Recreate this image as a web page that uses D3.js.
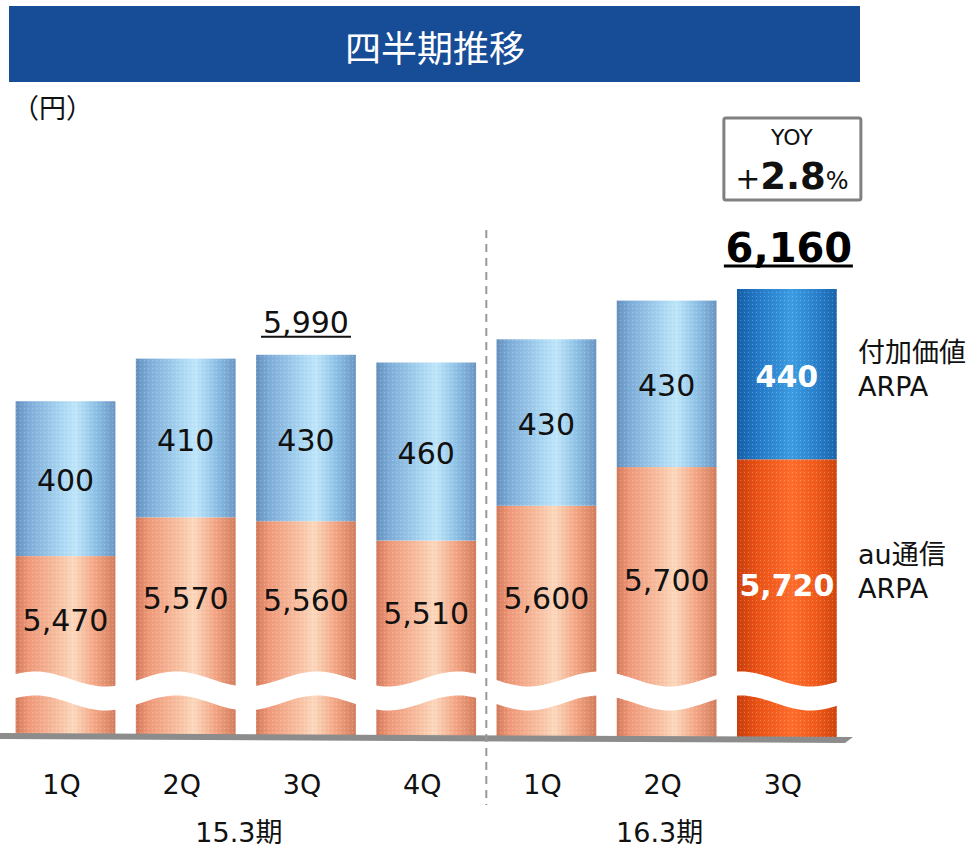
<!DOCTYPE html>
<html><head><meta charset="utf-8">
<script src="https://cdn.jsdelivr.net/npm/d3@7"></script>
<style>
html,body{margin:0;padding:0;background:#fff;}
svg{display:block;}
text{font-family:"DejaVu Sans","Noto Sans CJK JP",sans-serif;}
.cjk{font-family:"Noto Sans CJK JP","DejaVu Sans",sans-serif;}
</style></head>
<body>
<script>
// ---- data ----
const keys = ["15.3-1Q","15.3-2Q","15.3-3Q","15.3-4Q","16.3-1Q","16.3-2Q","16.3-3Q"];
const quarterLabels = ["1Q","2Q","3Q","4Q","1Q","2Q","3Q"];
const auArpa = [5470,5570,5560,5510,5600,5700,5720];        // au通信ARPA
const valueArpa = [400,410,430,460,430,430,440];            // 付加価値ARPA
const periodLabels = ["15.3期","16.3期"];
const periodFirst = [0,4];
const periodLast = [3,6];
const highlightIndex = 6;
const calloutIndex = [2,6];
const yoyText = ["YOY","+","2.8","%"];
const title = "四半期推移";
const unitLabel = "（円）";
const legendTop = ["付加価値","ARPA"];
const legendBottom = ["au通信","ARPA"];

const W = 978, H = 852;
const svg = d3.select("body").append("svg").attr("width",W).attr("height",H);
const defs = svg.append("defs");

function grad(id, stops){
  const g = defs.append("linearGradient").attr("id",id).attr("x1","0%").attr("x2","100%").attr("y1","0%").attr("y2","0%");
  stops.forEach(s=>g.append("stop").attr("offset",s[0]).attr("stop-color",s[1]));
}
grad("gBlue",[["0%","#6590bd"],["12%","#7cabd8"],["45%","#a9d6f2"],["60%","#bfe6fa"],["80%","#8fc2e7"],["100%","#6b97c4"]]);
grad("gOrange",[["0%","#d27a5b"],["12%","#ef9878"],["45%","#f9c3a5"],["58%","#fcd8bd"],["80%","#f3a584"],["100%","#d47e5e"]]);
grad("gBlueH",[["0%","#155fa8"],["20%","#2478c6"],["55%","#3c9de2"],["80%","#2a80cc"],["100%","#1a64ad"]]);
grad("gOrangeH",[["0%","#c93e0c"],["20%","#ea5216"],["55%","#ff6d2c"],["80%","#f05a1a"],["100%","#cf440e"]]);
const pat = defs.append("pattern").attr("id","tex").attr("width",4).attr("height",4).attr("patternUnits","userSpaceOnUse");
pat.append("rect").attr("x",0).attr("y",0).attr("width",1).attr("height",1).attr("fill","#fff").attr("opacity",0.25);
pat.append("rect").attr("x",2).attr("y",2).attr("width",1).attr("height",1).attr("fill","#000").attr("opacity",0.06);

// ---- header ----
svg.append("rect").attr("x",9).attr("y",6).attr("width",851).attr("height",76).attr("fill","#174c97");
svg.append("text").attr("class","cjk").attr("x",435).attr("y",46).attr("text-anchor","middle")
  .attr("dominant-baseline","central").attr("fill","#fff").attr("font-size",36).text(title);
svg.append("text").attr("class","cjk").attr("x",12).attr("y",118).attr("fill","#111").attr("font-size",27).text(unitLabel);

// ---- scales ----
const x = d3.scaleBand().domain(keys).range([5.4,847]).paddingInner(0.17).paddingOuter(0.085);
const y = d3.scaleLinear().domain([5000,6200]).range([738,273.5]);
const bw = x.bandwidth();

const data = keys.map((k,i)=>({k, i, au:auArpa[i], va:valueArpa[i], total:auArpa[i]+valueArpa[i]}));

// ---- bars ----
const bars = svg.append("g");
data.forEach(d=>{
  const hi = d.i===highlightIndex;
  bars.append("rect").attr("x",x(d.k)).attr("width",bw).attr("y",y(d.au)).attr("height",y(5000)-y(d.au))
    .attr("fill",hi?"url(#gOrangeH)":"url(#gOrange)");
  bars.append("rect").attr("x",x(d.k)).attr("width",bw).attr("y",y(d.total)).attr("height",y(d.au)-y(d.total))
    .attr("fill",hi?"url(#gBlueH)":"url(#gBlue)");
  bars.append("rect").attr("x",x(d.k)).attr("width",bw).attr("y",y(d.total)).attr("height",y(5000)-y(d.total))
    .attr("fill","url(#tex)");
});

// ---- axis break (wavy white band) ----
const breakTop = xx => 679 - 7.5*Math.cos(2*Math.PI*(xx-35)/141);
const gapH = 24;
const xs = d3.range(0,861,3);
const band = xs.map(v=>[v,breakTop(v)]).concat(xs.slice().reverse().map(v=>[v,breakTop(v)+gapH]));
svg.append("path").attr("d",d3.line()(band)+"Z").attr("fill","#fff");

// ---- floor ----
svg.append("path").attr("d","M0,733 L853,737 L845,743 L0,739 Z").attr("fill","#8c8c8c");

// ---- divider ----
const divX = (x(keys[3])+bw + x(keys[4]))/2;
svg.append("line").attr("x1",divX).attr("x2",divX).attr("y1",230).attr("y2",805)
  .attr("stroke","#999").attr("stroke-width",2).attr("stroke-dasharray","8,6");

// ---- value labels ----
data.forEach(d=>{
  const hi = d.i===highlightIndex;
  const cx = x(d.k)+bw/2;
  svg.append("text").attr("x",cx).attr("y",(y(d.total)+y(d.au))/2+2).attr("text-anchor","middle")
    .attr("dominant-baseline","central").attr("font-size",30).attr("font-weight",hi?"bold":"normal")
    .attr("fill",hi?"#fff":"#111").text(d3.format(",")(d.va));
  svg.append("text").attr("x",cx).attr("y",(y(d.au)+breakTop(cx)+4)/2 + (hi?12:2)).attr("text-anchor","middle")
    .attr("dominant-baseline","central").attr("font-size",30).attr("font-weight",hi?"bold":"normal")
    .attr("fill",hi?"#fff":"#111").text(d3.format(",")(d.au));
  svg.append("text").attr("x",cx-4).attr("y",794).attr("text-anchor","middle").attr("font-size",27)
    .attr("fill","#111").text(quarterLabels[d.i]);
});

// ---- period labels ----
periodLabels.forEach((p,j)=>{
  const a = x(keys[periodFirst[j]])+bw/2, b = x(keys[periodLast[j]])+bw/2;
  svg.append("text").attr("x",(a+b)/2-7).attr("y",842).attr("text-anchor","middle").attr("font-size",27)
    .attr("fill","#111").text(p);
});

// ---- total callouts ----
{
  const d = data[calloutIndex[0]], cx = x(d.k)+bw/2;
  svg.append("text").attr("x",cx).attr("y",y(d.total)-22).attr("text-anchor","middle").attr("font-size",30)
    .attr("fill","#111").text(d3.format(",")(d.total));
  svg.append("line").attr("x1",cx-45).attr("x2",cx+45).attr("y1",y(d.total)-18).attr("y2",y(d.total)-18)
    .attr("stroke","#111").attr("stroke-width",2);
}
{
  const d = data[calloutIndex[1]], cx = x(d.k)+bw/2;
  svg.append("text").attr("x",cx+2).attr("y",y(d.total)-27).attr("text-anchor","middle").attr("font-size",40)
    .attr("font-weight","bold").attr("fill","#000").text(d3.format(",")(d.total));
  svg.append("line").attr("x1",cx-63).attr("x2",cx+66).attr("y1",y(d.total)-23).attr("y2",y(d.total)-23)
    .attr("stroke","#000").attr("stroke-width",3);
  // YOY box
  svg.append("rect").attr("x",cx-63).attr("y",118).attr("width",137).attr("height",82).attr("rx",2)
    .attr("fill","#fff").attr("stroke","#808080").attr("stroke-width",3);
  svg.append("text").attr("x",cx+5).attr("y",145).attr("text-anchor","middle").attr("font-size",22)
    .attr("fill","#111").text(yoyText[0]);
  const t = svg.append("text").attr("x",cx+5).attr("y",189).attr("text-anchor","middle").attr("fill","#111");
  t.append("tspan").attr("font-size",30).text(yoyText[1]);
  t.append("tspan").attr("font-size",37).attr("font-weight","bold").text(yoyText[2]);
  t.append("tspan").attr("font-size",24).text(yoyText[3]);

  // legend
  const lx = 858;
  const midBlue = (y(d.total)+y(d.au))/2;
  const midOr = (y(d.au)+breakTop(cx))/2;
  [[legendTop,midBlue-5],[legendBottom,midOr]].forEach(([lines,my])=>{
    lines.forEach((s,k)=>{
      svg.append("text").attr("x",lx).attr("y",my-17+34*k).attr("dominant-baseline","central")
        .attr("font-size",27).attr("fill","#111").text(s);
    });
  });
}
</script>
</body></html>
